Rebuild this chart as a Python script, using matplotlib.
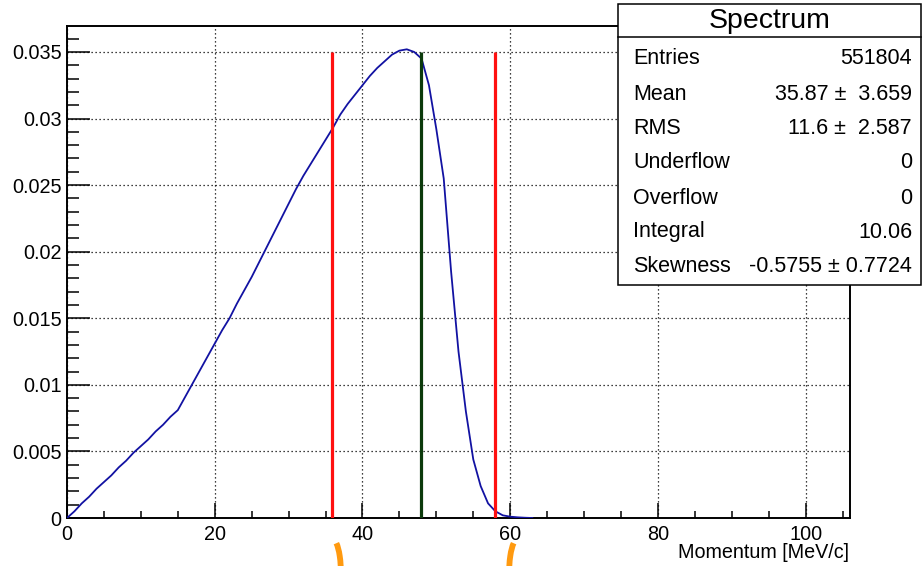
import matplotlib
matplotlib.use("Agg")
import matplotlib.pyplot as plt
from matplotlib.patches import Rectangle, Arc
from matplotlib.ticker import MultipleLocator, FuncFormatter

plt.rcParams['font.family'] = ['Liberation Sans', 'DejaVu Sans']

# ---- data ----
momentum = [0, 1, 2, 3, 4, 5, 6, 7, 8, 9, 10, 11, 12, 13, 14, 15, 16, 17, 18, 19,
            20, 21, 22, 23, 24, 25, 26, 27, 28, 29, 30, 31, 32, 33, 34, 35, 36, 37,
            38, 39, 40, 41, 42, 43, 44, 45, 46, 47, 48, 49, 50, 51, 52, 53, 54, 55,
            56, 57, 58, 59, 60, 61, 62, 63]
density = [0.0, 0.0005, 0.0011, 0.0016, 0.0022, 0.0027, 0.0032, 0.0038, 0.0043,
           0.0049, 0.0054, 0.0059, 0.0065, 0.0070, 0.0076, 0.0081, 0.0091, 0.0101,
           0.0111, 0.0121, 0.0131, 0.0141, 0.0150, 0.0161, 0.0171, 0.0181, 0.0192,
           0.0203, 0.0214, 0.0225, 0.0236, 0.0247, 0.0257, 0.0266, 0.0275, 0.0284,
           0.0293, 0.0303, 0.0311, 0.0318, 0.0325, 0.0332, 0.0338, 0.0343, 0.0348,
           0.0351, 0.0352, 0.0350, 0.0345, 0.0325, 0.0292, 0.0255, 0.0185, 0.0125,
           0.0080, 0.0044, 0.0024, 0.0011, 0.0005, 0.0002, 0.0001, 0.00005, 0.00002, 0.0]

red_lines_x = [35.9, 58.0]
green_lines_x = [47.9]
marker_top = 0.035

stat_title = "Spectrum"
stat_labels = ["Entries", "Mean", "RMS", "Underflow", "Overflow", "Integral", "Skewness"]
stat_values = ["551804", "35.87 \u00b1  3.659", "11.6 \u00b1  2.587", "0", "0", "10.06",
               "-0.5755 \u00b1 0.7724"]

x_label = "Momentum [MeV/c]"

# ---- figure ----
W, H = 922, 566
fig = plt.figure(figsize=(W / 100, H / 100), dpi=100)
ax = fig.add_axes([67 / W, 1 - 518 / H, (850 - 67) / W, (518 - 26) / H])

ax.plot(momentum, density, color='#1212a2', lw=1.3, zorder=3)
ax.vlines(red_lines_x, 0, marker_top, color='#ff1010', lw=2.3, zorder=4)
ax.vlines(green_lines_x, 0, marker_top, color='#0b3a0b', lw=2.3, zorder=4)

ax.set_xlim(0, 106)
ax.set_ylim(0, 0.03695)

ax.xaxis.set_major_locator(MultipleLocator(20))
ax.xaxis.set_minor_locator(MultipleLocator(5))
ax.yaxis.set_major_locator(MultipleLocator(0.005))
ax.yaxis.set_minor_locator(MultipleLocator(0.001))
ax.yaxis.set_major_formatter(FuncFormatter(lambda v, p: "%g" % round(v, 4)))
ax.xaxis.set_major_formatter(FuncFormatter(lambda v, p: "%g" % v))

ax.grid(True, which='major', color='black', linestyle=(0, (1, 2.2)), lw=0.9, zorder=1)

ax.tick_params(axis='x', which='major', direction='in', length=11, width=1.1,
               labelsize=14.3, pad=5, top=False)
ax.tick_params(axis='x', which='minor', direction='in', length=5, width=1.1, top=False)
ax.tick_params(axis='y', which='major', direction='in', length=16.5, width=1.1,
               labelsize=14.3, pad=4, right=False)
ax.tick_params(axis='y', which='minor', direction='in', length=8.5, width=1.1, right=False)

for s in ax.spines.values():
    s.set_linewidth(1.4)

fig.text(849 / W, 1 - 558 / H, x_label, ha='right', va='baseline', fontsize=14.2)

# ---- stats box ----
bx0, bx1, by0, by1 = 618, 921, 4, 285
box = Rectangle((bx0 / W, 1 - by1 / H), (bx1 - bx0) / W, (by1 - by0) / H,
                transform=fig.transFigure, facecolor='white', edgecolor='black',
                lw=1.1, zorder=10)
fig.add_artist(box)
fig.add_artist(plt.Line2D([bx0 / W, bx1 / W], [1 - 37 / H, 1 - 37 / H],
                          transform=fig.transFigure, color='black', lw=1.1, zorder=11))
fig.text((bx0 + bx1) / 2 / W, 1 - 21 / H, stat_title, ha='center', va='center',
         fontsize=20.5, zorder=12)
row_y = [58, 94, 128, 163, 198, 231, 267]
for lab, val, yy in zip(stat_labels, stat_values, row_y):
    fig.text(633 / W, 1 - yy / H, lab, ha='left', va='center', fontsize=15.5, zorder=12)
    fig.text(912 / W, 1 - (yy + (2 if lab == "Integral" else 0)) / H, val, ha='right',
             va='center', fontsize=15.5, zorder=12)

# ---- orange bracket marks below the axis (arcs, in pixel units / 100 = inches) ----
orange = '#ff9a10'
fig.add_artist(Arc((333 / 100, (H - 575) / 100), 16 / 100, 70 / 100, theta1=0, theta2=84,
                   transform=fig.dpi_scale_trans, color=orange, lw=4.2))
fig.add_artist(Arc((517 / 100, (H - 575) / 100), 16 / 100, 70 / 100, theta1=96, theta2=180,
                   transform=fig.dpi_scale_trans, color=orange, lw=4.2))

fig.savefig("out.png", dpi=100)
